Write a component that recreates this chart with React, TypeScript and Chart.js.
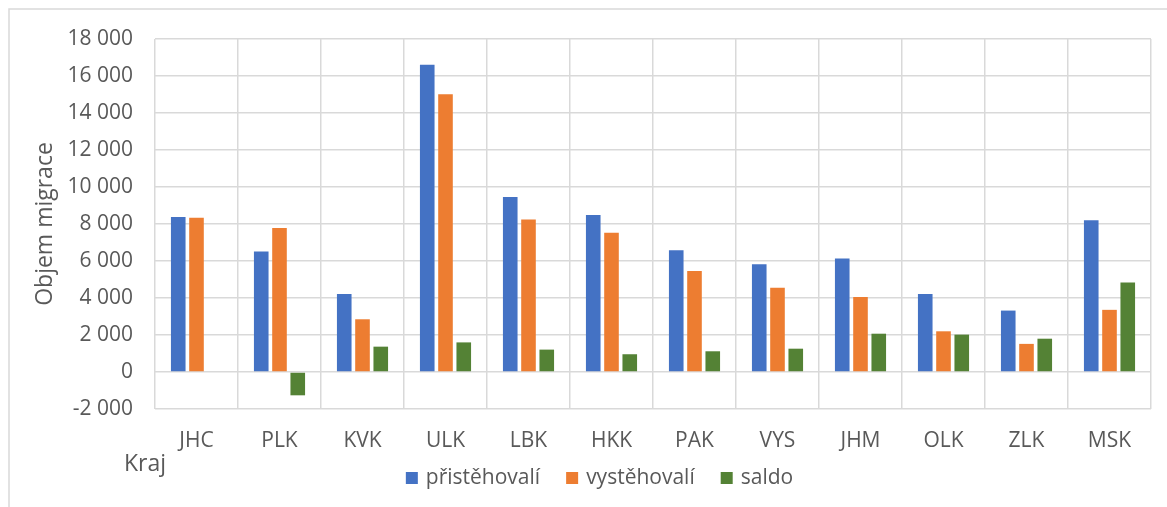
import React, { useEffect, useRef } from "react";
import { Chart, registerables } from "chart.js";

Chart.register(...registerables);

const categories = ["JHC", "PLK", "KVK", "ULK", "LBK", "HKK", "PAK", "VYS", "JHM", "OLK", "ZLK", "MSK"];
const prist = [8380, 6520, 4220, 16610, 9460, 8490, 6580, 5820, 6130, 4220, 3320, 8200];
const vyst = [8340, 7780, 2850, 15010, 8250, 7530, 5460, 4560, 4060, 2200, 1520, 3360];
const saldo = [40, -1260, 1370, 1600, 1210, 960, 1120, 1260, 2070, 2020, 1800, 4840];
const seriesNames = ["přistěhovalí", "vystěhovalí", "saldo"];
const seriesColors = ["#4472C4", "#ED7D31", "#548235"];
const yTicksMin = -2000;
const yTicksMax = 18000;
const yStep = 2000;
const yTitle = "Objem migrace";
const xTitle = "Kraj";

const FONT = "'Open Sans', 'Noto Sans', sans-serif";
const TEXT = "#595959";
const GRID = "#d9d9d9";

function fmt(v: number): string {
  const s = Math.abs(v).toString().replace(/\B(?=(\d{3})+(?!\d))/g, " ");
  return (v < 0 ? "-" : "") + s;
}

export default function App() {
  const ref = useRef<HTMLCanvasElement | null>(null);
  useEffect(() => {
    if (!ref.current) return;
    const frame = {
      id: "frame",
      beforeDraw(chart: any) {
        const ctx = chart.ctx;
        ctx.save();
        ctx.fillStyle = "#ffffff";
        ctx.fillRect(0, 0, chart.width, chart.height);
        ctx.strokeStyle = GRID;
        ctx.lineWidth = 1.5;
        ctx.beginPath();
        ctx.moveTo(9, chart.height);
        ctx.lineTo(9, 9);
        ctx.lineTo(chart.width, 9);
        ctx.stroke();
        ctx.restore();
      },
      afterDraw(chart: any) {
        const ctx = chart.ctx;
        const area = chart.chartArea;
        ctx.save();
        ctx.fillStyle = TEXT;
        ctx.font = `23px ${FONT}`;
        ctx.textAlign = "left";
        ctx.textBaseline = "middle";
        ctx.fillText(xTitle, area.left - 31, area.bottom + 55);

        // legend
        ctx.font = `21px ${FONT}`;
        const box = 12;
        const gapText = 8;
        const gapItem = 26;
        const items = chart.data.datasets.map((d: any) => ({
          text: d.label,
          color: d.backgroundColor,
          w: ctx.measureText(d.label).width,
        }));
        const total = items.reduce((s: number, it: any) => s + box + gapText + it.w, 0) + gapItem * (items.length - 1);
        let x = chart.width / 2 + 16 - total / 2;
        const cy = area.bottom + 69;
        items.forEach((it: any) => {
          ctx.fillStyle = it.color;
          ctx.fillRect(x, cy - box / 2, box, box);
          x += box + gapText;
          ctx.fillStyle = TEXT;
          ctx.fillText(it.text, x, cy);
          x += it.w + gapItem;
        });
        ctx.restore();
      },
    };
    const chart = new Chart(ref.current, {
      type: "bar",
      data: {
        labels: categories,
        datasets: [
          { label: seriesNames[0], data: prist, backgroundColor: seriesColors[0] },
          { label: seriesNames[1], data: vyst, backgroundColor: seriesColors[1] },
          { label: seriesNames[2], data: saldo, backgroundColor: seriesColors[2] },
        ],
      },
      options: {
        responsive: false,
        animation: false,
        devicePixelRatio: 1,
        datasets: { bar: { categoryPercentage: 0.66, barPercentage: 0.8 } },
        layout: { padding: { left: 47, top: 39, right: 16, bottom: 48 } },
        plugins: {
          legend: { display: false },
          tooltip: { enabled: false },
        },
        scales: {
          x: {
            grid: { color: GRID, lineWidth: 1.5, drawTicks: false, offset: true },
            border: { display: false },
            ticks: { color: TEXT, font: { family: FONT, size: 21 }, padding: 19, maxRotation: 0 },
            afterFit(scale: any) {
              scale.height = 50;
            },
          },
          y: {
            min: yTicksMin,
            max: yTicksMax,
            grid: { color: GRID, lineWidth: 1.5, drawTicks: false },
            border: { display: false },
            ticks: {
              stepSize: yStep,
              color: TEXT,
              font: { family: FONT, size: 21 },
              padding: 22,
              callback: (v: any) => fmt(Number(v)),
            },
            title: {
              display: true,
              text: yTitle,
              color: TEXT,
              font: { family: FONT, size: 23 },
              padding: { top: -15, bottom: 0 },
            },
            afterFit(scale: any) {
              scale.width = 108;
            },
          },
        },
      },
      plugins: [frame],
    });
    return () => chart.destroy();
  }, []);
  return (
    <div style={{ position: "fixed", left: 0, top: 0, width: 1167, height: 507, background: "#fff" }}>
      <canvas ref={ref} width={1167} height={507} />
    </div>
  );
}
